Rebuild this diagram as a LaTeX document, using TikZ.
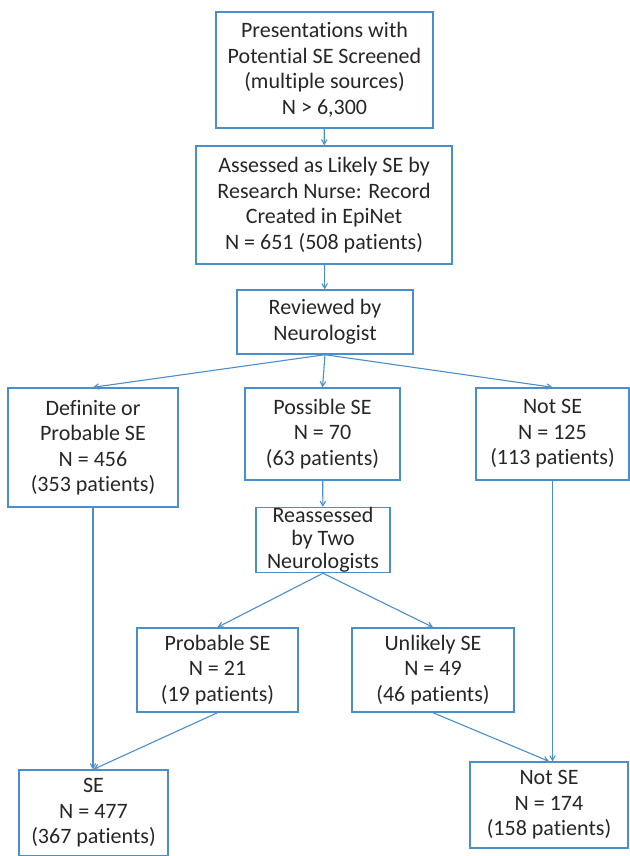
\documentclass[tikz,border=0pt]{standalone}
\usepackage{fontspec}
\setmainfont{Carlito}[Ligatures = NoCommon]
\usetikzlibrary{arrows}
\usetikzlibrary{positioning}
\definecolor{mblue}{rgb}{0.29, 0.56, 0.80}
\definecolor{tgray}{rgb}{0.15, 0.15, 0.15}
\tikzset{box/.style = {draw = mblue, line width = 1.4pt, align = center, inner sep = 0,
    text = tgray, font = \fontsize{22}{25.5}\selectfont}}
\tikzset{link/.style = {draw = mblue, line width = 1.1pt, ->, >= angle 60}}

\begin{document}
\begin{tikzpicture}[x = 1pt, y = -1pt]
    \useasboundingbox (0, 0) rectangle (629, 856);

    \node [box, minimum width = 217, minimum height = 116] (scr) at (324.5, 70)
        {Presentations with\\Potential SE Screened\\(multiple sources)\\N > 6,300};
    \node [box, minimum width = 256, minimum height = 118] (rec) at (324, 205)
        {Assessed as Likely SE by\\Research Nurse: Record\\Created in EpiNet\\N = 651 (508 patients)};
    \node [box, minimum width = 176, minimum height = 64] (rev) at (325, 322)
        {Reviewed by\\Neurologist};

    \node [box, minimum width = 170, minimum height = 119] (def) at (93, 447.5)
        {Definite or\\Probable SE\\N = 456\\(353 patients)};
    \node [box, minimum width = 155, minimum height = 92] (pos) at (322.5, 434)
        {Possible SE\\N = 70\\(63 patients)};
    \node [box, minimum width = 153, minimum height = 92] (not) at (552.5, 434)
        {Not SE\\N = 125\\(113 patients)};

    \node [box, minimum width = 134, minimum height = 64,
        font = \fontsize{22}{23}\selectfont] (rea) at (323, 540)
        {Reassessed\\by Two\\Neurologists};
    \node [box, minimum width = 161, minimum height = 84] (prb) at (217.5, 670)
        {Probable SE\\N = 21\\(19 patients)};
    \node [box, minimum width = 162, minimum height = 84] (unl) at (433, 670)
        {Unlikely SE\\N = 49\\(46 patients)};

    \node [box, minimum width = 149, minimum height = 86] (se) at (93.5, 813)
        {SE\\N = 477\\(367 patients)};
    \node [box, minimum width = 158, minimum height = 86] (nse) at (549, 805)
        {Not SE\\N = 174\\(158 patients)};

    \draw [link] (scr) -- (rec);
    \draw [link] (rec) -- (rev);
    \draw [link] (rev.south) -- (def.north);
    \draw [link] (rev.south) -- (pos.north);
    \draw [link] (rev.south) -- (not.north);
    \draw [link] (pos) -- (rea);
    \draw [link] (rea.south) -- (prb.north);
    \draw [link] (rea.south) -- (unl.north);
    \draw [link] (def.south) -- (se.north -| def.south);
    \draw [link] (prb.south) -- (se.north);
    \draw [link] (not.south) -- (nse.north -| not.south);
    \draw [link] (unl.south) -- (nse.north);
\end{tikzpicture}
\end{document}
